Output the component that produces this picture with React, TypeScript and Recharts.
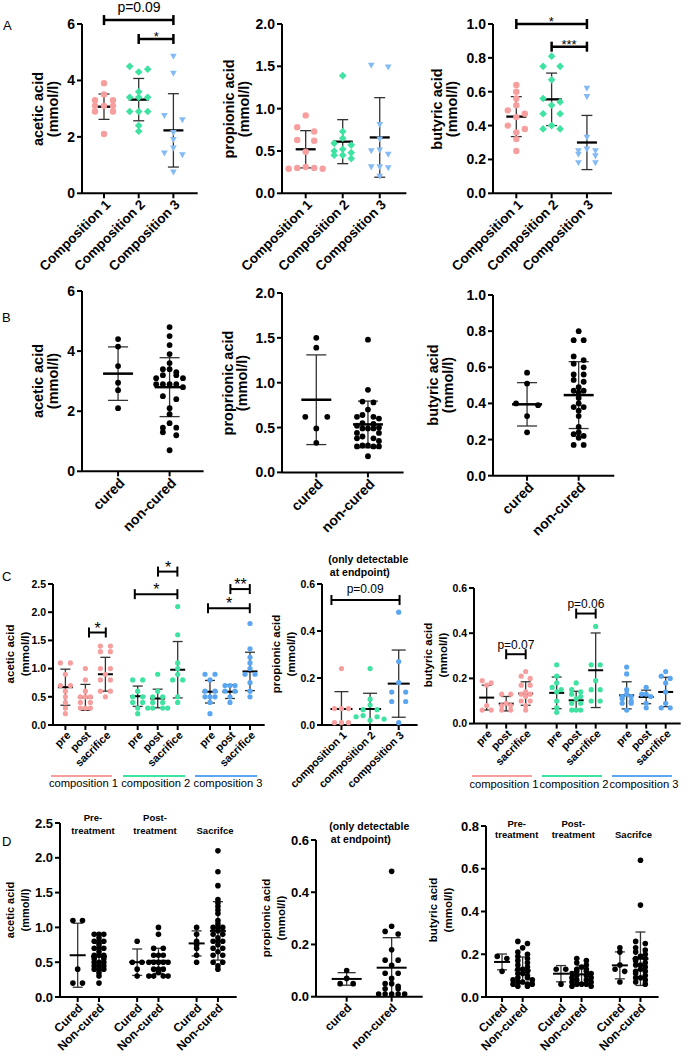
import React from 'react';
import { ScatterChart, Scatter, XAxis, YAxis, ReferenceLine } from 'recharts';

const FONT = '"Liberation Sans", Arial, Helvetica, sans-serif';

// ---------- categories & tick labels ----------
const compositions = ['Composition 1', 'Composition 2', 'Composition 3'];
const compositionsLc = ['composition 1', 'composition 2', 'composition 3'];
const cureCats = ['cured', 'non-cured'];
const cureCatsCap = ['Cured', 'Non-cured'];
const phases = ['pre', 'post', 'sacrifice'];
const phaseTitles = [['Pre-', 'treatment'], ['Post-', 'treatment'], ['Sacrifce']];
const ticksAcetic6 = [0, 2, 4, 6];
const ticksProp2 = [0, 0.5, 1, 1.5, 2];
const ticksBut1 = [0, 0.2, 0.4, 0.6, 0.8, 1];
const ticksAcetic25 = [0, 0.5, 1, 1.5, 2, 2.5];
const ticks06 = [0, 0.2, 0.4, 0.6];
const ticks08 = [0, 0.2, 0.4, 0.6, 0.8];

// ---------- A: per composition ----------
const aAcetic = [
  [3.9, 3.5, 3.3, 3.3, 3.1, 3.1, 3.1, 2.9, 2.9, 2.1],
  [4.5, 4.4, 4.3, 3.6, 3.4, 3.4, 3.4, 2.9, 2.9, 2.9, 2.4, 2.2],
  [4.85, 4.25, 2.75, 2.6, 2.15, 1.9, 1.6, 1.42, 1.36, 0.75],
];
const aAceticMean = [3.07, 3.32, 2.23];
const aAceticSd = [0.45, 0.75, 1.3];
const aPropionic = [
  [0.92, 0.78, 0.73, 0.63, 0.62, 0.49, 0.31, 0.3, 0.3, 0.29, 0.29],
  [1.39, 0.73, 0.65, 0.59, 0.57, 0.52, 0.5, 0.48, 0.45, 0.45, 0.41],
  [1.51, 1.49, 0.81, 0.64, 0.51, 0.5, 0.46, 0.31, 0.31, 0.3, 0.2],
];
const aPropionicMean = [0.52, 0.61, 0.66];
const aPropionicSd = [0.22, 0.26, 0.47];
const aButyric = [
  [0.64, 0.6, 0.56, 0.52, 0.49, 0.47, 0.45, 0.4, 0.38, 0.36, 0.32, 0.25],
  [0.81, 0.75, 0.75, 0.67, 0.56, 0.54, 0.52, 0.47, 0.47, 0.4, 0.38, 0.38],
  [0.62, 0.57, 0.33, 0.26, 0.25, 0.25, 0.23, 0.22, 0.18, 0.18],
];
const aButyricMean = [0.453, 0.555, 0.3];
const aButyricSd = [0.118, 0.155, 0.16];

// ---------- B: cured vs non-cured ----------
const bAcetic = [
  [4.4, 4.15, 3.5, 2.95, 2.7, 2.1],
  [4.8, 4.5, 4.2, 3.9, 3.6, 3.4, 3.4, 3.3, 3.2, 3.2, 3.1, 3.1, 2.9, 2.9, 2.9, 2.9, 2.8, 2.5, 2.4, 2.1, 1.9, 1.6, 1.45, 1.45, 1.3, 1.2, 0.7],
];
const bAceticMean = [3.25, 2.8];
const bAceticSd = [0.89, 0.98];
const bPropionic = [
  [1.5, 1.39, 0.62, 0.62, 0.49, 0.33],
  [1.48, 0.92, 0.79, 0.78, 0.7, 0.64, 0.62, 0.62, 0.6, 0.55, 0.54, 0.52, 0.5, 0.49, 0.49, 0.49, 0.44, 0.44, 0.4, 0.38, 0.38, 0.35, 0.3, 0.3, 0.29, 0.29, 0.29, 0.18],
];
const bPropionicMean = [0.81, 0.535];
const bPropionicSd = [0.5, 0.26];
const bButyric = [
  [0.57, 0.51, 0.4, 0.39, 0.33, 0.24],
  [0.8, 0.75, 0.75, 0.66, 0.64, 0.62, 0.6, 0.56, 0.56, 0.53, 0.52, 0.49, 0.47, 0.47, 0.46, 0.43, 0.4, 0.38, 0.38, 0.36, 0.33, 0.27, 0.24, 0.23, 0.22, 0.21, 0.17, 0.17],
];
const bButyricMean = [0.395, 0.446];
const bButyricSd = [0.12, 0.185];

// ---------- C: composition x time point (pre, post, sacrifice) ----------
const cAcetic = [
  [1.1, 1.1, 0.9, 0.7, 0.7, 0.6, 0.5, 0.4, 0.3, 0.2],
  [1.0, 0.8, 0.6, 0.5, 0.5, 0.5, 0.4, 0.4, 0.3, 0.3, 0.3],
  [1.4, 1.4, 1.3, 1.3, 1.0, 1.0, 0.9, 0.8, 0.8, 0.6, 0.6, 0.5],
  [0.8, 0.8, 0.6, 0.5, 0.5, 0.4, 0.4, 0.3, 0.2],
  [0.9, 0.6, 0.5, 0.5, 0.4, 0.4, 0.3, 0.3, 0.3, 0.3],
  [2.1, 1.6, 1.1, 1.0, 0.9, 0.8, 0.8, 0.5, 0.4],
  [0.9, 0.9, 0.8, 0.6, 0.6, 0.5, 0.5, 0.5, 0.4, 0.2],
  [0.7, 0.7, 0.7, 0.6, 0.6, 0.5, 0.4],
  [1.8, 1.35, 1.2, 1.1, 1.0, 0.9, 0.9, 0.75, 0.6, 0.5],
];
const cAceticMean = [0.67, 0.49, 0.9, 0.51, 0.47, 0.98, 0.59, 0.59, 0.95];
const cAceticSd = [0.32, 0.23, 0.3, 0.18, 0.165, 0.5, 0.2, 0.12, 0.34];
const cPropionic = [
  [0.24, 0.07, 0.07, 0.07, 0.01, 0.01, 0.01],
  [0.24, 0.11, 0.085, 0.065, 0.065, 0.04, 0.035, 0.035, 0.025, 0.02],
  [0.48, 0.27, 0.18, 0.14, 0.14, 0.1, 0.1, 0.01],
];
const cPropionicMean = [0.068, 0.068, 0.176];
const cPropionicSd = [0.074, 0.067, 0.143];
const cButyric = [
  [0.19, 0.18, 0.17, 0.08, 0.06, 0.06],
  [0.13, 0.13, 0.09, 0.08, 0.08, 0.06, 0.06],
  [0.23, 0.21, 0.2, 0.17, 0.17, 0.14, 0.13, 0.13, 0.12, 0.1, 0.1, 0.08, 0.06],
  [0.26, 0.21, 0.18, 0.16, 0.15, 0.14, 0.1, 0.07, 0.05],
  [0.18, 0.15, 0.14, 0.13, 0.12, 0.11, 0.09, 0.09, 0.06, 0.06, 0.06],
  [0.43, 0.26, 0.26, 0.19, 0.15, 0.15, 0.1, 0.1],
  [0.25, 0.22, 0.15, 0.13, 0.12, 0.12, 0.11, 0.1, 0.09, 0.09, 0.06],
  [0.16, 0.13, 0.13, 0.12, 0.09, 0.07],
  [0.23, 0.21, 0.2, 0.18, 0.14, 0.09, 0.07, 0.07],
];
const cButyricMean = [0.115, 0.088, 0.133, 0.136, 0.103, 0.236, 0.125, 0.118, 0.14];
const cButyricSd = [0.055, 0.032, 0.052, 0.07, 0.04, 0.165, 0.06, 0.03, 0.065];

// ---------- D: cured / non-cured x time point ----------
const dAcetic = [
  [1.1, 1.1, 0.4, 0.2, 0.2],
  [0.9, 0.9, 0.9, 0.85, 0.8, 0.8, 0.8, 0.75, 0.7, 0.7, 0.7, 0.65, 0.6, 0.6, 0.6, 0.55, 0.55, 0.5, 0.5, 0.5, 0.45, 0.45, 0.45, 0.4, 0.4, 0.4, 0.35, 0.3, 0.2],
  [0.8, 0.5, 0.5, 0.4, 0.3],
  [1.0, 0.9, 0.7, 0.7, 0.6, 0.6, 0.6, 0.5, 0.5, 0.5, 0.5, 0.5, 0.4, 0.4, 0.4, 0.35, 0.3, 0.3, 0.3, 0.3],
  [1.0, 0.9, 0.8, 0.75, 0.7, 0.6, 0.5],
  [2.1, 1.8, 1.6, 1.4, 1.35, 1.3, 1.25, 1.2, 1.1, 1.05, 1.0, 1.0, 1.0, 0.95, 0.9, 0.9, 0.85, 0.8, 0.8, 0.8, 0.75, 0.7, 0.7, 0.65, 0.6, 0.6, 0.5, 0.5, 0.45, 0.4],
];
const dAceticMean = [0.6, 0.58, 0.5, 0.52, 0.77, 0.95];
const dAceticSd = [0.46, 0.19, 0.19, 0.18, 0.18, 0.42];
const dPropionic = [
  [0.1, 0.07, 0.05, 0.05],
  [0.48, 0.27, 0.25, 0.24, 0.18, 0.14, 0.14, 0.12, 0.09, 0.09, 0.07, 0.05, 0.05, 0.04, 0.03, 0.03, 0.01, 0.01, 0.01, 0.01, 0.01],
];
const dPropionicMean = [0.068, 0.111];
const dPropionicSd = [0.024, 0.115];
const dButyric = [
  [0.19, 0.18, 0.12],
  [0.26, 0.25, 0.23, 0.21, 0.2, 0.19, 0.18, 0.17, 0.16, 0.15, 0.14, 0.13, 0.13, 0.12, 0.11, 0.11, 0.1, 0.09, 0.09, 0.08, 0.08, 0.07, 0.07, 0.06, 0.06, 0.06, 0.05, 0.05],
  [0.13, 0.13, 0.06],
  [0.18, 0.17, 0.16, 0.15, 0.14, 0.13, 0.13, 0.12, 0.12, 0.11, 0.11, 0.1, 0.1, 0.09, 0.09, 0.08, 0.08, 0.07, 0.07, 0.06, 0.06, 0.06, 0.05, 0.05],
  [0.23, 0.21, 0.15, 0.13, 0.12, 0.07],
  [0.64, 0.43, 0.26, 0.25, 0.23, 0.22, 0.21, 0.2, 0.19, 0.18, 0.18, 0.17, 0.16, 0.15, 0.15, 0.14, 0.13, 0.12, 0.12, 0.11, 0.1, 0.09, 0.09, 0.08, 0.07, 0.06],
];
const dButyricMean = [0.164, 0.125, 0.109, 0.106, 0.148, 0.179];
const dButyricSd = [0.037, 0.062, 0.038, 0.04, 0.063, 0.125];

// ---------- significance brackets (x in category units, y in mmol/l) ----------
const aAceticBrackets = [
  { x1: 1, x2: 3, y: 6.14, label: 'p=0.09' },
  { x1: 2, x2: 3, y: 5.47, label: '*' },
];
const aButyricBrackets = [
  { x1: 1, x2: 3, y: 1.0, label: '*' },
  { x1: 2, x2: 3, y: 0.866, label: '***' },
];
const cAceticBrackets = [
  { x1: 1.18, x2: 2.02, y: 1.64, label: '*' },
  { x1: 3.47, x2: 5.6, y: 2.32, label: '*' },
  { x1: 4.63, x2: 5.6, y: 2.72, label: '*' },
  { x1: 7.13, x2: 9.22, y: 2.07, label: '*' },
  { x1: 8.25, x2: 9.22, y: 2.41, label: '**' },
];
const cPropionicBrackets = [{ x1: 0.65, x2: 3.03, y: 0.532, label: 'p=0.09' }];
const cButyricBrackets = [
  { x1: 1, x2: 2, y: 0.307, label: 'p=0.07' },
  { x1: 4.59, x2: 5.59, y: 0.487, label: 'p=0.06' },
];

// ---------- styles ----------
const PINK = '#F79E9E';
const GREEN = '#3EE3A1';
const BLUE = '#85BBF5';
const BLUE_C = '#5AA6F0';
const SD_COLOR = '#333';

type Shape = 'circle' | 'diamond' | 'tri';
interface Geo { L: number; T: number; W: number; H: number; xMin: number; xMax: number; yMax: number }
interface GroupCfg { x: number; values: number[]; mean: number; sd: number; color: string; shape: Shape; r: number; step: number; rowH: number; maxHalf: number }
interface Bracket { x1: number; x2: number; y: number; label: string }
interface PanelCfg {
  geo: Geo; yTicks: number[]; dec: number; tickFs: number;
  xs: number[]; xLabels: string[]; xFs: number; xdx: number; xdy: number;
  groups: GroupCfg[]; meanHalf: number; capHalf: number; meanW: number;
  brackets?: Bracket[]; bracketW?: number; pFs?: number; starFs?: number; pLift?: number; starLift?: number;
}

const sx = (g: Geo, x: number) => g.L + ((x - g.xMin) / (g.xMax - g.xMin)) * g.W;
const sy = (g: Geo, y: number) => g.T + g.H - (y / g.yMax) * g.H;

function swarmOffsets(values: number[], pxY: number, step: number, rowH: number, maxHalf: number): number[] {
  const order = values.map((_, i) => i).sort((a, b) => values[b] - values[a]);
  const out = new Array(values.length).fill(0);
  let row: number[] = [];
  let rowTop = 0;
  const flush = () => {
    const n = row.length;
    if (!n) return;
    const offs: number[] = [];
    if (n % 2 === 1) {
      offs.push(0);
      for (let k = 1; k <= (n - 1) / 2; k++) offs.push(-k, k);
    } else {
      for (let k = 1; k <= n / 2; k++) offs.push(-k, k);
    }
    const maxK = Math.max(...offs.map(Math.abs));
    const s = maxK > 0 ? Math.min(step, maxHalf / maxK) : step;
    row.forEach((idx, j) => { out[idx] = offs[j] * s; });
    row = [];
  };
  for (const i of order) {
    const y = values[i] * pxY;
    if (row.length && rowTop - y >= rowH) flush();
    if (!row.length) rowTop = y;
    row.push(i);
  }
  flush();
  return out;
}

const makeShape = (shape: Shape, r: number, color: string) => (p: any) => {
  const { cx, cy } = p;
  if (cx == null || cy == null) return <g />;
  if (shape === 'circle') return <circle cx={cx} cy={cy} r={r} fill={color} />;
  if (shape === 'diamond') {
    const s = r * 1.2;
    return <path d={`M${cx},${cy - s}L${cx + s},${cy}L${cx},${cy + s}L${cx - s},${cy}Z`} fill={color} />;
  }
  const s = r * 1.05;
  return <path d={`M${cx - s},${cy - s * 0.8}L${cx + s},${cy - s * 0.8}L${cx},${cy + s}Z`} fill={color} />;
};

const makeTick = (xs: number[], labels: string[], fs: number, dx: number, dy: number) => (p: any) => {
  const v = p.payload ? p.payload.value : null;
  const i = xs.findIndex((t) => Math.abs(t - v) < 1e-6);
  return (
    <text x={0} y={0} transform={`translate(${p.x + dx},${p.y + dy}) rotate(-45)`} textAnchor="end"
      dominantBaseline="central" fontSize={fs} fontWeight="bold" fontFamily={FONT} fill="#000">
      {i >= 0 ? labels[i] : ''}
    </text>
  );
};

const PL = 50, PT = 10, PR = 10, PB = 40;

function Panel({ cfg }: { cfg: PanelCfg }) {
  const g = cfg.geo;
  const pxX = g.W / (g.xMax - g.xMin);
  const pxY = g.H / g.yMax;
  const lines: React.ReactElement[] = [];
  let k = 0;
  const seg = (x1: number, y1: number, x2: number, y2: number, stroke: string, w: number) =>
    lines.push(
      <ReferenceLine key={`l${k++}`} segment={[{ x: x1, y: y1 }, { x: x2, y: y2 }]} stroke={stroke}
        strokeWidth={w} ifOverflow="visible" />,
    );
  cfg.groups.forEach((gr) => {
    const lo = Math.max(0, gr.mean - gr.sd);
    const hi = gr.mean + gr.sd;
    const cu = cfg.capHalf / pxX;
    const mu = cfg.meanHalf / pxX;
    seg(gr.x, lo, gr.x, hi, SD_COLOR, 1.3);
    seg(gr.x - cu, hi, gr.x + cu, hi, SD_COLOR, 1.3);
    if (gr.mean - gr.sd > 0) seg(gr.x - cu, lo, gr.x + cu, lo, SD_COLOR, 1.3);
    seg(gr.x - mu, gr.mean, gr.x + mu, gr.mean, '#000', cfg.meanW);
  });
  const bw = cfg.bracketW || 2;
  (cfg.brackets || []).forEach((b) => {
    const c = 5 / pxY;
    seg(b.x1, b.y, b.x2, b.y, '#000', bw);
    seg(b.x1, b.y - c, b.x1, b.y + c, '#000', bw);
    seg(b.x2, b.y - c, b.x2, b.y + c, '#000', bw);
  });
  const labels = (cfg.brackets || []).map((b, i) => {
    const isP = b.label.startsWith('p');
    const fs = isP ? cfg.pFs || 12 : cfg.starFs || 14;
    const lift = isP ? cfg.pLift || 11 : cfg.starLift || 4;
    return (
      <div key={`b${i}`} style={{
        position: 'absolute', left: sx(g, (b.x1 + b.x2) / 2), top: sy(g, b.y) - lift,
        transform: 'translate(-50%,-50%)', fontSize: fs, lineHeight: 1, whiteSpace: 'nowrap', fontFamily: FONT,
      }}>{b.label}</div>
    );
  });
  return (
    <>
      <div style={{ position: 'absolute', left: g.L - PL, top: g.T - PT }}>
        <ScatterChart width={g.W + PL + PR} height={g.H + PT + PB} margin={{ top: PT, right: PR, bottom: 0, left: 0 }}>
          <XAxis type="number" dataKey="x" domain={[g.xMin, g.xMax]} ticks={cfg.xs} interval={0} height={PB}
            allowDataOverflow tick={makeTick(cfg.xs, cfg.xLabels, cfg.xFs, cfg.xdx, cfg.xdy)} tickSize={5}
            tickLine={{ stroke: '#000', strokeWidth: 2 }} axisLine={{ stroke: '#000', strokeWidth: 2 }} />
          <YAxis type="number" dataKey="y" domain={[0, g.yMax]} ticks={cfg.yTicks} interval={0} width={PL}
            tickSize={5} tickMargin={2} tickFormatter={(v: number) => v.toFixed(cfg.dec)}
            tick={{ fontSize: cfg.tickFs, fontWeight: 'bold', fill: '#000', fontFamily: FONT }}
            tickLine={{ stroke: '#000', strokeWidth: 2 }} axisLine={{ stroke: '#000', strokeWidth: 2 }} />
          {cfg.groups.map((gr, i) => {
            const offs = swarmOffsets(gr.values, pxY, gr.step, gr.rowH, gr.maxHalf);
            const pts = gr.values.map((v, j) => ({ x: gr.x + offs[j] / pxX, y: v }));
            return <Scatter key={`s${i}`} data={pts} fill={gr.color} shape={makeShape(gr.shape, gr.r, gr.color)} isAnimationActive={false} />;
          })}
          {lines}
        </ScatterChart>
      </div>
      {labels}
    </>
  );
}

// ---------- panel configurations ----------
const compColorsA = [PINK, GREEN, BLUE];
const compColorsC = [PINK, GREEN, BLUE_C];
const compShapes: Shape[] = ['circle', 'diamond', 'tri'];

const buildGroups = (vals: number[][], means: number[], sds: number[], xs: number[], colorOf: (i: number) => string,
  shapeOf: (i: number) => Shape, r: number, stepOf: (i: number) => number, rowH: number, maxHalf: number): GroupCfg[] =>
  vals.map((v, i) => ({ x: xs[i], values: v, mean: means[i], sd: sds[i], color: colorOf(i), shape: shapeOf(i), r, step: stepOf(i), rowH, maxHalf }));

const xsA = [1, 2, 3];
const xsB = [1, 2];
const xsC1 = [0, 1, 2, 3.615, 4.615, 5.615, 7.23, 8.23, 9.23];
const xsC3 = [0, 1, 2, 3.59, 4.59, 5.59, 7.18, 8.18, 9.18];
const xsD1 = [0, 1, 2.79, 3.79, 5.58, 6.58];
const xsD3 = [0, 1, 2.86, 3.86, 5.72, 6.72];
const phaseLabels = [...phases, ...phases, ...phases];
const cureLabels3 = [...cureCatsCap, ...cureCatsCap, ...cureCatsCap];

const aCommon = { xs: xsA, xLabels: compositions, xFs: 13.5, xdx: 4, xdy: 2, meanHalf: 10, capHalf: 5.5, meanW: 2.3, bracketW: 2.5, pFs: 14, starFs: 13, pLift: 13, starLift: 3 };
const bCommon = { xs: xsB, xLabels: cureCats, xFs: 14, xdx: 4, xdy: 2, meanHalf: 15, capHalf: 10, meanW: 2.5 };

const panels: PanelCfg[] = [
  {
    ...aCommon, geo: { L: 82.3, T: 24, W: 115.7, H: 169.3, xMin: 0.366, xMax: 3.7, yMax: 6 }, yTicks: ticksAcetic6, dec: 0, tickFs: 14,
    groups: buildGroups(aAcetic, aAceticMean, aAceticSd, xsA, (i) => compColorsA[i], (i) => compShapes[i], 3.2, () => 9, 5, 20),
    brackets: aAceticBrackets,
  },
  {
    ...aCommon, geo: { L: 282.3, T: 24, W: 124.4, H: 169.3, xMin: 0.36, xMax: 3.72, yMax: 2 }, yTicks: ticksProp2, dec: 1, tickFs: 14,
    groups: buildGroups(aPropionic, aPropionicMean, aPropionicSd, xsA, (i) => compColorsA[i], (i) => compShapes[i], 3.2, () => 8.5, 5, 20),
  },
  {
    ...aCommon, geo: { L: 492.7, T: 24, W: 119, H: 169.3, xMin: 0.34, xMax: 3.71, yMax: 1 }, yTicks: ticksBut1, dec: 1, tickFs: 14,
    groups: buildGroups(aButyric, aButyricMean, aButyricSd, xsA, (i) => compColorsA[i], (i) => compShapes[i], 3.2, () => 8.5, 5, 20),
    brackets: aButyricBrackets,
  },
  {
    ...bCommon, geo: { L: 81.7, T: 290.7, W: 121.6, H: 180.3, xMin: 0.3, xMax: 2.66, yMax: 6 }, yTicks: ticksAcetic6, dec: 0, tickFs: 14,
    groups: buildGroups(bAcetic, bAceticMean, bAceticSd, xsB, () => '#000', () => 'circle', 2.9, (i) => (i === 0 ? 11 : 6.7), 4.5, 22),
  },
  {
    ...bCommon, geo: { L: 281.7, T: 293.3, W: 121.6, H: 179.4, xMin: 0.336, xMax: 2.69, yMax: 2 }, yTicks: ticksProp2, dec: 1, tickFs: 14,
    groups: buildGroups(bPropionic, bPropionicMean, bPropionicSd, xsB, () => '#000', () => 'circle', 2.9, (i) => (i === 0 ? 11 : 5.5), 4.5, 22),
  },
  {
    ...bCommon, geo: { L: 492.7, T: 295, W: 121.3, H: 180.7, xMin: 0.34, xMax: 2.69, yMax: 1 }, yTicks: ticksBut1, dec: 1, tickFs: 14,
    groups: buildGroups(bButyric, bButyricMean, bButyricSd, xsB, () => '#000', () => 'circle', 2.9, (i) => (i === 0 ? 11 : 5), 4.5, 22),
  },
  {
    geo: { L: 53.3, T: 584, W: 211.7, H: 141, xMin: -0.62, xMax: 9.965, yMax: 2.5 }, yTicks: ticksAcetic25, dec: 1, tickFs: 10.5,
    xs: xsC1, xLabels: phaseLabels, xFs: 11, xdx: 3, xdy: 1, meanHalf: 7.5, capHalf: 5, meanW: 2,
    groups: buildGroups(cAcetic, cAceticMean, cAceticSd, xsC1, (i) => compColorsC[Math.floor(i / 3)], () => 'circle', 2.6, () => 5, 4, 12),
    brackets: cAceticBrackets, bracketW: 2, starFs: 16, starLift: 4,
  },
  {
    geo: { L: 321.7, T: 584, W: 95.6, H: 141, xMin: 0.32, xMax: 3.66, yMax: 0.6 }, yTicks: ticks06, dec: 1, tickFs: 10.5,
    xs: xsA, xLabels: compositionsLc, xFs: 11, xdx: 3, xdy: 1, meanHalf: 11, capHalf: 7, meanW: 2,
    groups: buildGroups(cPropionic, cPropionicMean, cPropionicSd, xsA, (i) => compColorsC[i], () => 'circle', 2.6, () => 7, 4, 14),
    brackets: cPropionicBrackets, bracketW: 2, pFs: 12, pLift: 11,
  },
  {
    geo: { L: 474, T: 587.7, W: 206.7, H: 135.6, xMin: -0.65, xMax: 9.95, yMax: 0.6 }, yTicks: ticks06, dec: 1, tickFs: 10.5,
    xs: xsC3, xLabels: phaseLabels, xFs: 11, xdx: 3, xdy: 1, meanHalf: 7.5, capHalf: 5, meanW: 2,
    groups: buildGroups(cButyric, cButyricMean, cButyricSd, xsC3, (i) => compColorsC[Math.floor(i / 3)], () => 'circle', 2.6, () => 4.5, 4, 12),
    brackets: cButyricBrackets, bracketW: 2, pFs: 12, pLift: 9,
  },
  {
    geo: { L: 60, T: 823.3, W: 176.7, H: 174, xMin: -0.83, xMax: 7.46, yMax: 2.5 }, yTicks: ticksAcetic25, dec: 1, tickFs: 13,
    xs: xsD1, xLabels: cureLabels3, xFs: 12, xdx: 3, xdy: 2, meanHalf: 8, capHalf: 5, meanW: 2,
    groups: buildGroups(dAcetic, dAceticMean, dAceticSd, xsD1, () => '#000', () => 'circle', 2.8, () => 4.8, 3, 12),
  },
  {
    geo: { L: 316, T: 840, W: 106.7, H: 156.7, xMin: 0.318, xMax: 2.69, yMax: 0.6 }, yTicks: ticks06, dec: 1, tickFs: 13,
    xs: xsB, xLabels: cureCats, xFs: 12, xdx: 3, xdy: 2, meanHalf: 15, capHalf: 9, meanW: 2,
    groups: buildGroups(dPropionic, dPropionicMean, dPropionicSd, xsB, () => '#000', () => 'circle', 2.8, () => 6.5, 4, 16),
  },
  {
    geo: { L: 485.7, T: 825.7, W: 172.6, H: 171, xMin: -0.78, xMax: 7.6, yMax: 0.8 }, yTicks: ticks08, dec: 1, tickFs: 13,
    xs: xsD3, xLabels: cureLabels3, xFs: 12, xdx: 3, xdy: 2, meanHalf: 8, capHalf: 5, meanW: 2,
    groups: buildGroups(dButyric, dButyricMean, dButyricSd, xsD3, () => '#000', () => 'circle', 2.8, () => 4.8, 3, 12),
  },
];

// ---------- text annotations ----------
const yLabels = [
  { cx: 45.5, cy: 109, lines: ['acetic acid', '(mmol/l)'], fs: 14.5, gap: 15 },
  { cx: 236.5, cy: 109, lines: ['propionic acid', '(mmol/l)'], fs: 14.5, gap: 15 },
  { cx: 445, cy: 109, lines: ['butyric acid', '(mmol/l)'], fs: 14.5, gap: 15 },
  { cx: 45.5, cy: 381, lines: ['acetic acid', '(mmol/l)'], fs: 14.5, gap: 15 },
  { cx: 235, cy: 383, lines: ['proprionic acid', '(mmol/l)'], fs: 14.5, gap: 14 },
  { cx: 441, cy: 385, lines: ['butyric acid', '(mmol/l)'], fs: 14.5, gap: 15 },
  { cx: 17.5, cy: 654, lines: ['acetic acid', '(mmol/l)'], fs: 11.5, gap: 15 },
  { cx: 284, cy: 654, lines: ['propionic acid', '(mmol/l)'], fs: 11.5, gap: 15 },
  { cx: 436, cy: 655, lines: ['butyric acid', '(mmol/l)'], fs: 11.5, gap: 15 },
  { cx: 17.5, cy: 910, lines: ['acetic acid', '(mmol/l)'], fs: 11, gap: 15 },
  { cx: 274, cy: 918, lines: ['propionic acid', '(mmol/l)'], fs: 11.5, gap: 15 },
  { cx: 441, cy: 910, lines: ['butyric acid', '(mmol/l)'], fs: 11.5, gap: 15 },
];
const panelLetters = [
  { t: 'A', x: 3, y: 19 },
  { t: 'B', x: 2, y: 311 },
  { t: 'C', x: 2, y: 570 },
  { t: 'D', x: 2, y: 835 },
];

const YLabel = ({ cx, cy, lines, fs, gap }: { cx: number; cy: number; lines: string[]; fs: number; gap: number }) => (
  <div style={{
    position: 'absolute', left: cx, top: cy, transform: 'translate(-50%,-50%) rotate(-90deg)', fontFamily: FONT,
    fontWeight: 'bold', fontSize: fs, lineHeight: `${gap}px`, textAlign: 'center', whiteSpace: 'nowrap',
  }}>
    {lines.map((l) => <div key={l}>{l}</div>)}
  </div>
);

const CText = ({ x, y, fs, bold, children }: { x: number; y: number; fs: number; bold?: boolean; children: React.ReactNode }) => (
  <div style={{
    position: 'absolute', left: x, top: y, transform: 'translate(-50%,-50%)', fontFamily: FONT, fontSize: fs,
    fontWeight: bold ? 'bold' : 'normal', lineHeight: 1, whiteSpace: 'nowrap',
  }}>{children}</div>
);

function GroupUnderlines({ geo, xs, colors, y, labelY }: { geo: Geo; xs: number[]; colors: string[]; y: number; labelY: number }) {
  return (
    <>
      {[0, 1, 2].map((gi) => {
        const x1 = sx(geo, xs[gi * 3]) - 15;
        const x2 = sx(geo, xs[gi * 3 + 2]) + 6.5;
        return (
          <React.Fragment key={gi}>
            <div style={{ position: 'absolute', left: x1, top: y - 1, width: x2 - x1, height: 2, background: colors[gi] }} />
            <CText x={(x1 + x2) / 2 + 2} y={labelY} fs={11.2}>{compositionsLc[gi]}</CText>
          </React.Fragment>
        );
      })}
    </>
  );
}

export default function App() {
  const c1 = panels[6].geo;
  const c3 = panels[8].geo;
  return (
    <div style={{ position: 'absolute', left: 0, top: 0, width: 693, height: 1061, background: '#fff', overflow: 'hidden', fontFamily: FONT }}>
      <style>{'.recharts-surface{overflow:visible}'}</style>
      {panels.map((p, i) => <Panel key={i} cfg={p} />)}
      {yLabels.map((l, i) => <YLabel key={i} {...l} />)}
      {panelLetters.map((p) => (
        <div key={p.t} style={{ position: 'absolute', left: p.x, top: p.y, fontSize: 13, lineHeight: '13px', fontFamily: FONT }}>{p.t}</div>
      ))}
      <GroupUnderlines geo={c1} xs={xsC1} colors={compColorsC} y={775.7} labelY={783.5} />
      <GroupUnderlines geo={c3} xs={xsC3} colors={compColorsC} y={776} labelY={785} />
      {/* titles */}
      <div style={{ position: 'absolute', left: 328.3, top: 553, fontFamily: FONT, fontWeight: 'bold', fontSize: 10.5, lineHeight: '13.3px', whiteSpace: 'nowrap' }}>
        <div>(only detectable</div><div style={{ paddingLeft: 1.5 }}>at endpoint)</div>
      </div>
      <div style={{ position: 'absolute', left: 329.3, top: 820, fontFamily: FONT, fontWeight: 'bold', fontSize: 10.5, lineHeight: '12.6px', whiteSpace: 'nowrap' }}>
        <div>(only detectable</div><div style={{ paddingLeft: 1.5 }}>at endpoint)</div>
      </div>
      {[93, 155, 215].map((cx, i) => (
        <div key={`d1t${i}`} style={{ position: 'absolute', left: cx, top: phaseTitles[i].length > 1 ? 812 : 824.5, transform: 'translateX(-50%)', textAlign: 'center', fontFamily: FONT, fontWeight: 'bold', fontSize: 9.5, lineHeight: '12.5px', whiteSpace: 'nowrap' }}>
          {phaseTitles[i].map((t) => <div key={t}>{t}</div>)}
        </div>
      ))}
      {[516.7, 573.3, 633.5].map((cx, i) => (
        <div key={`d3t${i}`} style={{ position: 'absolute', left: cx, top: phaseTitles[i].length > 1 ? 818 : 829, transform: 'translateX(-50%)', textAlign: 'center', fontFamily: FONT, fontWeight: 'bold', fontSize: 9.5, lineHeight: '11px', whiteSpace: 'nowrap' }}>
          {phaseTitles[i].map((t) => <div key={t}>{t}</div>)}
        </div>
      ))}
    </div>
  );
}
